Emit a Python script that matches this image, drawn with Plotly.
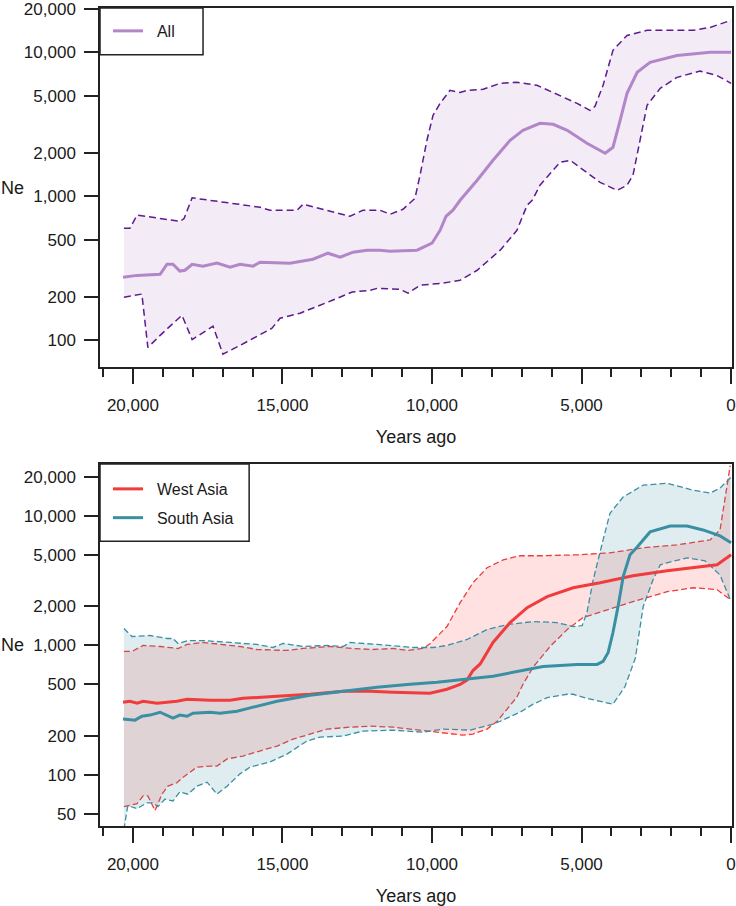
import plotly.graph_objects as go

# ---------------- Top panel: All ----------------
all_mean_years = [20330, 19860, 19090, 18860, 18660, 18430, 18260, 18020, 17660, 17190, 16750, 16420,
                  15980, 15750, 14750, 13980, 13480, 13070, 12640, 12170, 11740, 11400, 10500, 10000,
                  9730, 9530, 9300, 9060, 8490, 7960, 7390, 6960, 6390, 5950, 5480, 4820, 4210, 3950,
                  3710, 3480, 3140, 2710, 1810, 700, 0]
all_mean_ne = [274, 282, 287, 337, 337, 302, 306, 337, 327, 343, 321, 337,
               327, 348, 343, 365, 402, 377, 409, 422, 422, 415, 422, 472,
               580, 726, 800, 938, 1291, 1778, 2449, 2872, 3212, 3162, 2872, 2335, 1989, 2190,
               3370, 5190, 7260, 8510, 9500, 10000, 10000]

all_upper_years = [20300, 20100, 19860, 18430, 18290, 18020, 15750, 15420, 14510, 14310, 12740, 12310,
                   11740, 11400, 10970, 10570, 10400, 10170, 9965, 9730, 9400, 9060, 8830, 8290, 7720,
                   7160, 6490, 5720, 5150, 4720, 4550, 4280, 3950, 3480, 2810, 1270, 700, 0]
all_upper_ne = [600, 600, 740, 670, 700, 975, 839, 800, 800, 880, 726, 800,
                800, 750, 812, 968, 1400, 2449, 3650, 4420, 5440, 5270, 5440, 5540, 6090,
                6190, 5900, 5020, 4420, 3950, 4220, 5900, 10330, 13100, 14230, 14230, 14900, 16700]

all_lower_years = [20300, 19700, 19500, 19090, 18360, 18020, 17320, 16990, 16420, 15350, 15080, 14410,
                   13310, 12670, 12070, 11840, 11070, 10800, 10400, 9630, 9060, 8490, 7720, 7160, 6820,
                   6650, 6390, 5950, 5720, 5380, 4820, 4380, 3810, 3480, 3280, 3040, 2810, 2370, 1810,
                   1040, 470, 0]
all_lower_ne = [199, 209, 89, 108, 149, 101, 125, 80, 92, 121, 142, 154,
                190, 216, 222, 229, 226, 212, 241, 249, 261, 306, 422, 580, 866,
                938, 1192, 1515, 1720, 1778, 1470, 1250, 1100, 1192, 1400, 2449, 4280, 5620, 6700,
                7400, 6900, 6090]

# ---------------- Bottom panel: West Asia ----------------
wa_mean_years = [20330, 20100, 19860, 19660, 19190, 18530, 18190, 17420, 16750, 16320, 15180, 14080,
                 12970, 12070, 11300, 10070, 9500, 9060, 8830, 8630, 8390, 7960, 7390, 6820, 6150,
                 5280, 4380, 3280, 2140, 1040, 470, 0]
wa_mean_ne = [364, 371, 358, 371, 358, 371, 384, 377, 377, 391, 405, 420,
              443, 443, 435, 428, 459, 500, 540, 640, 720, 1055, 1503, 1960, 2380,
              2790, 3050, 3450, 3770, 4050, 4200, 5010]

wa_upper_years = [20300, 20030, 19660, 19090, 18490, 18190, 17660, 17090, 16420, 15850, 15180, 14850,
                  14310, 13410, 12640, 11970, 11300, 10830, 10300, 10070, 9500, 9060, 8630, 8160, 7620,
                  7060, 6290, 5150, 4050, 2940, 1810, 700, 370, 200, 30]
wa_upper_ne = [899, 899, 1000, 982, 948, 1018, 1055, 1018, 982, 931, 915, 915,
               948, 982, 948, 931, 948, 915, 948, 1030, 1400, 2140, 3050, 3980, 4580,
               4930, 4930, 5010, 5190, 5680, 5980, 6540, 7800, 13300, 24500]

wa_lower_years = [20300, 20170, 19860, 19660, 19500, 19260, 19030, 18830, 18530, 18320, 17860, 17420,
                  17190, 16850, 16320, 15650, 15180, 14650, 14080, 13510, 12740, 12070, 11300, 10400,
                  9630, 8960, 8630, 8160, 7820, 7390, 7160, 6960, 6620, 6050, 5480, 4950, 4150, 3280,
                  2140, 1270, 470, 30]
wa_lower_ne = [57, 58, 60, 69, 69, 53, 71, 82, 87, 96, 115, 117,
               117, 133, 140, 156, 167, 189, 207, 226, 234, 238, 234, 222,
               211, 203, 207, 226, 260, 340, 400, 500, 680, 982, 1328, 1642, 1890, 2180,
               2600, 2790, 2700, 2260]

# ---------------- Bottom panel: South Asia ----------------
sa_mean_years = [20330, 19930, 19700, 19430, 19090, 18760, 18660, 18430, 18190, 17990, 17420, 17090,
                 16520, 15980, 15180, 14080, 12970, 11840, 10730, 10070, 9830, 7960, 6290, 5150,
                 4480, 4280, 4110, 3950, 3780, 3610, 3380, 3140, 2710, 2040, 1470, 940, 370, 0]
sa_mean_ne = [270, 265, 284, 290, 305, 284, 275, 290, 284, 300, 305, 300,
              311, 334, 371, 413, 443, 475, 501, 510, 519, 578, 689, 714,
              714, 753, 883, 1259, 1994, 3390, 5010, 5770, 7530, 8370, 8370, 7800, 7020, 6200]

sa_upper_years = [20300, 20030, 19430, 18860, 18660, 18490, 18160, 17660, 16750, 15850, 15320, 14980,
                  14310, 13510, 12970, 12740, 11840, 11170, 10630, 9965, 9500, 8830, 8160, 7490, 6620,
                  5820, 5280, 4980, 4820, 4610, 4380, 4280, 4050, 3610, 2940, 2140, 1270, 700, 370, 0]
sa_upper_ne = [1351, 1173, 1194, 1132, 1132, 1036, 1092, 1092, 1055, 1018, 965, 1036,
               982, 1000, 982, 1055, 1018, 982, 965, 965, 1000, 1112, 1328, 1450, 1530,
               1503, 1400, 1425, 1795, 3220, 5470, 6530, 10500, 14000, 17300, 17900, 15800, 15050, 16400, 20000]

sa_lower_years = [20300, 20170, 19860, 19530, 19330, 19160, 18930, 18660, 18430, 18160, 17860, 17520,
                  17190, 16850, 16420, 16080, 15420, 14850, 14180, 13740, 12970, 12310, 11300, 10330,
                  9630, 8730, 7960, 7720, 7060, 6620, 6150, 5480, 5280, 4820, 3950, 3550, 3200,
                  2940, 2610, 2370, 2140, 1470, 870, 370, 30]
sa_lower_ne = [38, 58, 55, 61, 61, 57, 65, 63, 74, 71, 82, 88,
               71, 82, 102, 115, 126, 145, 183, 196, 200, 218, 222, 214,
               226, 222, 247, 260, 305, 352, 395, 420, 420, 390, 352, 480, 800,
               1994, 3220, 4190, 4350, 4750, 4500, 3500, 2260]

# ---------------- Axis ticks ----------------
top_ytick_vals = [100, 200, 500, 1000, 2000, 5000, 10000, 20000]
top_ytick_text = ["100", "200", "500", "1,000", "2,000", "5,000", "10,000", "20,000"]
bot_ytick_vals = [50, 100, 200, 500, 1000, 2000, 5000, 10000, 20000]
bot_ytick_text = ["50", "100", "200", "500", "1,000", "2,000", "5,000", "10,000", "20,000"]

# ---------------- Styles ----------------
FONT = "Liberation Sans, Arial, sans-serif"
TXT = "#1a1a1a"
AX = "#222222"
ALL_LINE = "#b386c9"
ALL_DASH = "#5e1a8e"
ALL_FILL = "rgba(176,127,199,0.15)"
WA = "#f03c3c"
WA_FILL = "rgba(255,90,90,0.18)"
SA = "#3a8fa2"
SA_FILL = "rgba(58,143,162,0.16)"
NB = "\u00a0\u00a0"

fig = go.Figure()

# Top band
fig.add_trace(go.Scatter(x=all_lower_years, y=all_lower_ne, mode="lines",
                         line=dict(color=ALL_DASH, width=1.5, dash="7px,4px"),
                         showlegend=False, xaxis="x", yaxis="y", hoverinfo="skip"))
fig.add_trace(go.Scatter(x=all_upper_years, y=all_upper_ne, mode="lines",
                         line=dict(color=ALL_DASH, width=1.5, dash="7px,4px"),
                         fill="tonexty", fillcolor=ALL_FILL,
                         showlegend=False, xaxis="x", yaxis="y", hoverinfo="skip"))
fig.add_trace(go.Scatter(x=all_mean_years, y=all_mean_ne, mode="lines", name=NB + "All",
                         line=dict(color=ALL_LINE, width=3),
                         xaxis="x", yaxis="y", legend="legend"))

# Bottom bands
fig.add_trace(go.Scatter(x=wa_lower_years, y=wa_lower_ne, mode="lines",
                         line=dict(color=WA, width=1.3, dash="6px,3px"),
                         showlegend=False, xaxis="x2", yaxis="y2", hoverinfo="skip"))
fig.add_trace(go.Scatter(x=wa_upper_years, y=wa_upper_ne, mode="lines",
                         line=dict(color=WA, width=1.3, dash="6px,3px"),
                         fill="tonexty", fillcolor=WA_FILL,
                         showlegend=False, xaxis="x2", yaxis="y2", hoverinfo="skip"))
fig.add_trace(go.Scatter(x=sa_lower_years, y=sa_lower_ne, mode="lines",
                         line=dict(color=SA, width=1.3, dash="6px,3px"),
                         showlegend=False, xaxis="x2", yaxis="y2", hoverinfo="skip"))
fig.add_trace(go.Scatter(x=sa_upper_years, y=sa_upper_ne, mode="lines",
                         line=dict(color=SA, width=1.3, dash="6px,3px"),
                         fill="tonexty", fillcolor=SA_FILL,
                         showlegend=False, xaxis="x2", yaxis="y2", hoverinfo="skip"))
fig.add_trace(go.Scatter(x=wa_mean_years, y=wa_mean_ne, mode="lines", name=NB + "West Asia",
                         line=dict(color=WA, width=3), legendgroup="wa",
                         xaxis="x2", yaxis="y2", legend="legend2"))
fig.add_trace(go.Scatter(x=sa_mean_years, y=sa_mean_ne, mode="lines", name=NB + "South Asia",
                         line=dict(color=SA, width=3), legendgroup="sa",
                         xaxis="x2", yaxis="y2", legend="legend2"))

xaxis_common = dict(
    range=[21100, -30], showline=True, mirror=True, linecolor=AX, linewidth=1.5,
    tick0=0, dtick=5000, tickformat=",d", ticks="outside", ticklen=15, tickwidth=1.5,
    tickcolor=AX, showgrid=False, zeroline=False, automargin=False,
    ticklabeloverflow="allow",
    tickfont=dict(family=FONT, size=17, color=TXT),
    ticklabelstandoff=7,
    minor=dict(dtick=1000, tick0=0, ticks="outside", ticklen=8, tickwidth=1.5, tickcolor=AX, showgrid=False),
    title=dict(text="Years ago", font=dict(family=FONT, size=18, color=TXT), standoff=16),
)
yaxis_common = dict(
    type="log", showline=True, mirror=True, linecolor=AX, linewidth=1.5,
    ticks="outside", ticklen=14, tickwidth=1.5, tickcolor=AX, showgrid=False, zeroline=False,
    automargin=False, ticklabeloverflow="allow",
    tickfont=dict(family=FONT, size=17, color=TXT), ticklabelstandoff=5,
)

fig.update_layout(
    width=736, height=906,
    margin=dict(l=100, r=4, t=8, b=80, autoexpand=False),
    paper_bgcolor="white", plot_bgcolor="white",
    font=dict(family=FONT, color=TXT),
    xaxis=dict(domain=[0, 1], anchor="y", **xaxis_common),
    yaxis=dict(domain=[0.5611, 1.0], anchor="x", range=[1.8135, 4.308],
               tickvals=top_ytick_vals, ticktext=top_ytick_text, **yaxis_common),
    xaxis2=dict(domain=[0, 1], anchor="y2", **xaxis_common),
    yaxis2=dict(domain=[0.0, 0.4425], anchor="x2", range=[1.606, 4.401],
                tickvals=bot_ytick_vals, ticktext=bot_ytick_text, **yaxis_common),
    legend=dict(x=0.0127, y=0.9927, xref="paper", yref="paper", xanchor="left", yanchor="top",
                bgcolor="rgba(0,0,0,0)", borderwidth=0,
                font=dict(family=FONT, size=16, color=TXT)),
    legend2=dict(x=0.0127, y=0.4328, xref="paper", yref="paper", xanchor="left", yanchor="top",
                 bgcolor="rgba(0,0,0,0)", borderwidth=0, tracegroupgap=5,
                 traceorder="grouped",
                 font=dict(family=FONT, size=16, color=TXT)),
    shapes=[
        dict(type="rect", xref="x domain", yref="y domain", x0=0, x1=0.163, y0=0.87, y1=1.0,
             line=dict(color=AX, width=1.5), fillcolor="rgba(0,0,0,0)"),
        dict(type="rect", xref="x2 domain", yref="y2 domain", x0=0, x1=0.236, y0=0.787, y1=1.0,
             line=dict(color=AX, width=1.5), fillcolor="rgba(0,0,0,0)"),
    ],
    annotations=[
        dict(text="Ne", xref="paper", yref="y domain", x=-0.139, y=0.5, xanchor="center",
             yanchor="middle", showarrow=False, font=dict(family=FONT, size=18, color=TXT)),
        dict(text="Ne", xref="paper", yref="y2 domain", x=-0.139, y=0.5, xanchor="center",
             yanchor="middle", showarrow=False, font=dict(family=FONT, size=18, color=TXT)),
    ],
)

fig.write_html("out.html", config={"displayModeBar": False},
               post_script="document.body.style.margin='0';document.body.style.padding='0';")
